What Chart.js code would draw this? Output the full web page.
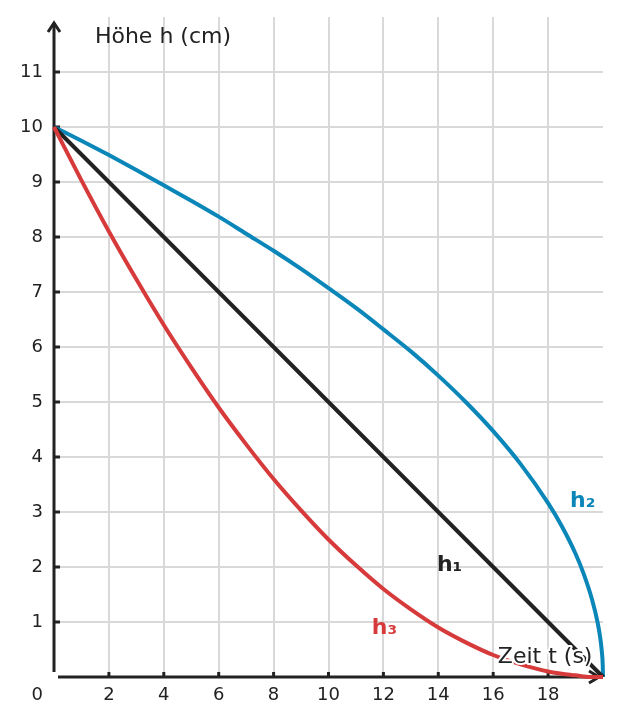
<!DOCTYPE html>
<html>
<head>
<meta charset="utf-8">
<script src="https://cdn.jsdelivr.net/npm/chart.js@4.4.0/dist/chart.umd.min.js"></script>
<style>
  html, body { margin: 0; padding: 0; background: #fff; }
  #wrap { width: 621px; height: 725px; position: relative; }
</style>
</head>
<body>
<div id="wrap"><canvas id="c"></canvas></div>
<script>
// ---- data ----
const timeT = [0, 1, 2, 3, 4, 5, 6, 7, 8, 9, 10, 11, 12, 13, 14, 15, 16, 17, 18, 18.5, 19, 19.3, 19.6, 19.8, 19.9, 19.95, 19.99, 20];
const heightH1 = [10, 9.5, 9, 8.5, 8, 7.5, 7, 6.5, 6, 5.5, 5, 4.5, 4, 3.5, 3, 2.5, 2, 1.5, 1, 0.75, 0.5, 0.35, 0.2, 0.1, 0.05, 0.03, 0.01, 0];
const heightH2 = [10, 9.75, 9.49, 9.22, 8.94, 8.66, 8.37, 8.06, 7.75, 7.42, 7.07, 6.71, 6.32, 5.92, 5.48, 5.0, 4.47, 3.87, 3.16, 2.74, 2.24, 1.87, 1.41, 1.0, 0.71, 0.5, 0.22, 0];
const heightH3 = [10, 9.03, 8.1, 7.23, 6.4, 5.63, 4.9, 4.23, 3.6, 3.03, 2.5, 2.03, 1.6, 1.23, 0.9, 0.63, 0.4, 0.23, 0.1, 0.06, 0.03, 0.01, 0, 0, 0, 0, 0, 0];
const xTickValues = [2, 4, 6, 8, 10, 12, 14, 16, 18];
const yTickValues = [1, 2, 3, 4, 5, 6, 7, 8, 9, 10, 11];
const seriesLabels = ['h\u2081', 'h\u2082', 'h\u2083'];
const yAxisTitle = 'Höhe h (cm)';
const xAxisTitle = 'Zeit t (s)';
const originLabel = '0';

const FONT = "'DejaVu Sans', sans-serif";
const INK = '#222222';
const BLUE = '#0a86b9';
const RED = '#d63a3a';
const GRID = '#d9d9d9';

const toPts = (ys) => timeT.map((t, i) => ({ x: t, y: ys[i] }));

const axesPlugin = {
  id: 'axesPlugin',
  beforeDatasetsDraw(chart) {
    const { ctx, scales: { x, y } } = chart;
    const x0 = x.getPixelForValue(0), y0 = y.getPixelForValue(0);
    const xEnd = x.getPixelForValue(20) - 4;
    const yTop = y.getPixelForValue(12) + 6;
    ctx.save();
    ctx.strokeStyle = INK;
    ctx.lineWidth = 3;
    ctx.lineCap = 'butt';
    // y axis
    ctx.beginPath();
    ctx.moveTo(x0, y0 - 5);
    ctx.lineTo(x0, yTop);
    ctx.stroke();
    ctx.beginPath();
    ctx.moveTo(x0 - 6, yTop + 9);
    ctx.lineTo(x0, yTop);
    ctx.lineTo(x0 + 6, yTop + 9);
    ctx.stroke();
    // x axis
    ctx.beginPath();
    ctx.moveTo(x0 + 4, y0);
    ctx.lineTo(xEnd, y0);
    ctx.stroke();
    ctx.beginPath();
    ctx.moveTo(xEnd - 10, y0 - 6);
    ctx.lineTo(xEnd, y0);
    ctx.lineTo(xEnd - 10, y0 + 6);
    ctx.stroke();
    // tick marks
    yTickValues.forEach(v => {
      const py = y.getPixelForValue(v);
      ctx.beginPath(); ctx.moveTo(x0, py); ctx.lineTo(x0 + 6, py); ctx.stroke();
    });
    xTickValues.forEach(v => {
      const px = x.getPixelForValue(v);
      ctx.beginPath(); ctx.moveTo(px, y0); ctx.lineTo(px, y0 - 5); ctx.stroke();
    });
    // origin label
    ctx.fillStyle = INK;
    ctx.font = '18px ' + FONT;
    ctx.textAlign = 'right';
    ctx.textBaseline = 'middle';
    ctx.fillText(originLabel, x0 - 11, y0 + 18);
    ctx.restore();
  },
  afterDatasetsDraw(chart) {
    const { ctx, scales: { x, y } } = chart;
    ctx.save();
    ctx.textBaseline = 'alphabetic';
    ctx.textAlign = 'left';
    // axis titles
    ctx.font = '22px ' + FONT;
    ctx.fillStyle = INK;
    ctx.fillText(yAxisTitle, x.getPixelForValue(1.49), y.getPixelForValue(11.53));
    ctx.lineJoin = 'round';
    ctx.strokeStyle = '#ffffff';
    ctx.lineWidth = 4;
    const zx = x.getPixelForValue(16.17), zy = y.getPixelForValue(0.25);
    ctx.strokeText(xAxisTitle, zx, zy);
    ctx.fillText(xAxisTitle, zx, zy);
    // series labels
    ctx.font = 'bold 22px ' + FONT;
    ctx.fillStyle = INK;
    ctx.fillText(seriesLabels[0], x.getPixelForValue(13.95), y.getPixelForValue(1.92));
    ctx.fillStyle = BLUE;
    ctx.fillText(seriesLabels[1], x.getPixelForValue(18.8), y.getPixelForValue(3.09));
    ctx.fillStyle = RED;
    ctx.fillText(seriesLabels[2], x.getPixelForValue(11.58), y.getPixelForValue(0.78));
    ctx.restore();
  }
};

new Chart(document.getElementById('c'), {
  type: 'line',
  data: {
    datasets: [
      { label: seriesLabels[2], data: toPts(heightH3), borderColor: RED, borderWidth: 4, pointRadius: 0, cubicInterpolationMode: 'monotone', clip: false },
      { label: seriesLabels[0], data: toPts(heightH1), borderColor: INK, borderWidth: 4, pointRadius: 0, tension: 0, clip: false },
      { label: seriesLabels[1], data: toPts(heightH2), borderColor: BLUE, borderWidth: 4, pointRadius: 0, cubicInterpolationMode: 'monotone', clip: false }
    ]
  },
  options: {
    responsive: true,
    maintainAspectRatio: false,
    animation: false,
    layout: { padding: { top: 17, right: 18, left: 0, bottom: 0 } },
    plugins: { legend: { display: false }, tooltip: { enabled: false } },
    scales: {
      x: {
        type: 'linear', min: 0, max: 20,
        afterFit: (s) => { s.height = 48; s.paddingLeft = 0; s.paddingRight = 0; },
        border: { display: false },
        grid: {
          drawTicks: false, lineWidth: 2,
          color: (c) => (c.tick && xTickValues.includes(c.tick.value)) ? GRID : 'rgba(0,0,0,0)'
        },
        ticks: {
          stepSize: 2, padding: 8, color: INK, font: { family: FONT, size: 18 },
          maxRotation: 0, autoSkip: false,
          callback: (v) => xTickValues.includes(v) ? String(v) : ''
        }
      },
      y: {
        type: 'linear', min: 0, max: 12,
        afterFit: (s) => { s.width = 54; s.paddingTop = 0; s.paddingBottom = 0; },
        border: { display: false },
        grid: {
          drawTicks: false, lineWidth: 2,
          color: (c) => (c.tick && yTickValues.includes(c.tick.value)) ? GRID : 'rgba(0,0,0,0)'
        },
        ticks: {
          stepSize: 1, padding: 11, color: INK, font: { family: FONT, size: 18 },
          autoSkip: false,
          callback: (v) => yTickValues.includes(v) ? String(v) : ''
        }
      }
    }
  },
  plugins: [axesPlugin]
});
</script>
</body>
</html>
